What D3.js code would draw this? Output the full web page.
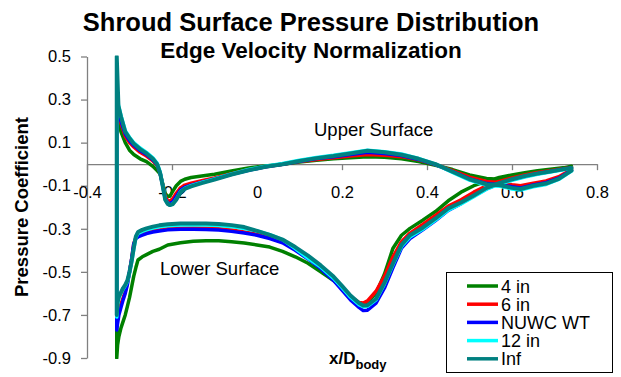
<!DOCTYPE html>
<html>
<head>
<meta charset="utf-8">
<script src="https://cdn.jsdelivr.net/npm/d3@7"></script>
<style>
  html, body { margin: 0; padding: 0; background: #fff; }
  svg { display: block; font-family: Arial, "Liberation Sans", sans-serif; }
</style>
</head>
<body>
<svg id="chart" width="621" height="377"></svg>
<script>
// Chordwise stations (x/D_body) on the shroud, upper and lower surfaces
const xUpper = [-0.33, -0.326, -0.32, -0.31, -0.30, -0.29, -0.275, -0.26, -0.245, -0.235, -0.228, -0.222, -0.216, -0.21, -0.205, -0.198, -0.19, -0.18, -0.17, -0.155, -0.13, -0.1, -0.06, -0.02, 0.02, 0.06, 0.1, 0.14, 0.18, 0.22, 0.26, 0.3, 0.34, 0.38, 0.42, 0.46, 0.5, 0.54, 0.57, 0.6, 0.62, 0.65, 0.68, 0.71, 0.74];
const xLower = [-0.33, -0.328, -0.325, -0.32, -0.315, -0.31, -0.305, -0.30, -0.295, -0.29, -0.285, -0.28, -0.27, -0.26, -0.245, -0.23, -0.21, -0.18, -0.15, -0.12, -0.09, -0.06, -0.03, 0.0, 0.03, 0.06, 0.09, 0.12, 0.15, 0.18, 0.2, 0.22, 0.24, 0.25, 0.26, 0.28, 0.3, 0.32, 0.34, 0.36, 0.39, 0.42, 0.45, 0.48, 0.51, 0.54, 0.57, 0.6, 0.63, 0.66, 0.69, 0.72, 0.74];

// Pressure coefficient, upper surface
const upper4in = [0.22, 0.2, 0.15, 0.1, 0.065, 0.045, 0.025, 0.012, -0.01, -0.03, -0.045, -0.09, -0.135, -0.15, -0.148, -0.125, -0.1, -0.08, -0.07, -0.062, -0.055, -0.047, -0.032, -0.018, -0.008, 0.0, 0.01, 0.018, 0.025, 0.03, 0.035, 0.032, 0.025, 0.012, -0.005, -0.025, -0.05, -0.066, -0.07, -0.058, -0.05, -0.042, -0.033, -0.022, -0.01];
const upper6in = [0.25, 0.23, 0.19, 0.13, 0.1, 0.08, 0.055, 0.038, 0.015, -0.005, -0.04, -0.095, -0.15, -0.17, -0.172, -0.16, -0.135, -0.11, -0.097, -0.088, -0.077, -0.064, -0.044, -0.026, -0.012, 0.0, 0.012, 0.022, 0.03, 0.038, 0.045, 0.042, 0.035, 0.02, -0.002, -0.03, -0.06, -0.08, -0.085, -0.095, -0.1, -0.088, -0.078, -0.058, -0.025];
const upperNuwc = [0.27, 0.25, 0.2, 0.14, 0.11, 0.088, 0.063, 0.045, 0.02, -0.002, -0.04, -0.098, -0.16, -0.18, -0.183, -0.175, -0.15, -0.12, -0.107, -0.097, -0.084, -0.069, -0.047, -0.028, -0.012, 0.0, 0.014, 0.026, 0.035, 0.045, 0.055, 0.05, 0.04, 0.022, -0.002, -0.035, -0.068, -0.09, -0.095, -0.105, -0.11, -0.096, -0.086, -0.065, -0.028];
const upper12in = [0.29, 0.275, 0.226, 0.156, 0.125, 0.1, 0.075, 0.055, 0.03, 0.005, -0.036, -0.097, -0.163, -0.184, -0.19, -0.184, -0.163, -0.127, -0.112, -0.1, -0.085, -0.069, -0.045, -0.025, -0.009, 0.003, 0.018, 0.031, 0.041, 0.053, 0.065, 0.058, 0.047, 0.027, 0.0, -0.038, -0.074, -0.098, -0.102, -0.115, -0.12, -0.105, -0.094, -0.071, -0.032];
const upperInf = [0.5, 0.27, 0.22, 0.15, 0.12, 0.095, 0.07, 0.05, 0.025, 0.0, -0.04, -0.1, -0.165, -0.185, -0.19, -0.185, -0.165, -0.13, -0.115, -0.103, -0.088, -0.072, -0.048, -0.028, -0.012, 0.0, 0.015, 0.028, 0.038, 0.05, 0.062, 0.055, 0.044, 0.025, 0.0, -0.035, -0.07, -0.093, -0.097, -0.11, -0.115, -0.1, -0.09, -0.068, -0.03];

// Pressure coefficient, lower surface
const lower4in = [-0.9, -0.84, -0.8, -0.76, -0.73, -0.7, -0.66, -0.62, -0.57, -0.52, -0.48, -0.445, -0.43, -0.42, -0.405, -0.395, -0.375, -0.365, -0.358, -0.356, -0.356, -0.36, -0.366, -0.375, -0.385, -0.405, -0.43, -0.46, -0.5, -0.54, -0.575, -0.615, -0.645, -0.65, -0.64, -0.6, -0.51, -0.39, -0.33, -0.298, -0.26, -0.22, -0.17, -0.13, -0.1, -0.08, -0.062, -0.05, -0.04, -0.031, -0.024, -0.017, -0.012];
const lower6in = [-0.74, -0.71, -0.68, -0.65, -0.62, -0.59, -0.55, -0.5, -0.44, -0.37, -0.34, -0.332, -0.325, -0.317, -0.31, -0.305, -0.3, -0.297, -0.296, -0.297, -0.3, -0.306, -0.315, -0.325, -0.34, -0.36, -0.395, -0.435, -0.48, -0.535, -0.578, -0.615, -0.642, -0.645, -0.635, -0.59, -0.52, -0.43, -0.36, -0.32, -0.28, -0.238, -0.195, -0.165, -0.13, -0.1, -0.08, -0.064, -0.05, -0.039, -0.03, -0.021, -0.016];
const lowerNuwc = [-0.77, -0.74, -0.7, -0.665, -0.63, -0.6, -0.56, -0.5, -0.44, -0.37, -0.345, -0.338, -0.33, -0.322, -0.315, -0.31, -0.305, -0.302, -0.302, -0.303, -0.306, -0.312, -0.32, -0.33, -0.345, -0.365, -0.4, -0.44, -0.485, -0.54, -0.585, -0.63, -0.665, -0.68, -0.678, -0.645, -0.575, -0.48, -0.39, -0.345, -0.305, -0.262, -0.215, -0.183, -0.148, -0.115, -0.09, -0.072, -0.057, -0.044, -0.034, -0.024, -0.018];
const lower12in = [-0.71, -0.65, -0.622, -0.6, -0.58, -0.565, -0.545, -0.505, -0.455, -0.395, -0.34, -0.322, -0.312, -0.305, -0.297, -0.291, -0.286, -0.283, -0.282, -0.282, -0.285, -0.29, -0.299, -0.31, -0.327, -0.35, -0.392, -0.437, -0.478, -0.53, -0.573, -0.618, -0.652, -0.662, -0.66, -0.63, -0.556, -0.466, -0.382, -0.338, -0.302, -0.26, -0.213, -0.185, -0.151, -0.116, -0.093, -0.075, -0.06, -0.047, -0.037, -0.026, -0.019];
const lowerInf = [-0.7, -0.64, -0.615, -0.595, -0.575, -0.56, -0.54, -0.5, -0.45, -0.39, -0.335, -0.315, -0.305, -0.298, -0.29, -0.284, -0.279, -0.276, -0.275, -0.275, -0.278, -0.283, -0.292, -0.31, -0.328, -0.35, -0.385, -0.425, -0.47, -0.522, -0.565, -0.61, -0.645, -0.656, -0.655, -0.625, -0.55, -0.46, -0.375, -0.33, -0.295, -0.252, -0.205, -0.178, -0.145, -0.11, -0.088, -0.07, -0.055, -0.043, -0.034, -0.024, -0.018];

const seriesNames = ["4 in", "6 in", "NUWC WT", "12 in", "Inf"];
const seriesColors = ["#008000", "#ff0000", "#0000ff", "#00ffff", "#008080"];
const upperSets = [upper4in, upper6in, upperNuwc, upper12in, upperInf];
const lowerSets = [lower4in, lower6in, lowerNuwc, lower12in, lowerInf];

const xTicks = [-0.4, -0.2, 0, 0.2, 0.4, 0.6, 0.8];
const yTicks = [0.5, 0.3, 0.1, -0.1, -0.3, -0.5, -0.7, -0.9];

const svg = d3.select("#chart");
const plot = { left: 87, right: 597, top: 56.5, bottom: 358 };

const x = d3.scaleLinear().domain([-0.4, 0.8]).range([plot.left, plot.right]);
const y = d3.scaleLinear().domain([-0.9, 0.5]).range([plot.bottom, plot.top]);
const fmt = d => d3.format(".1f")(d).replace("\u2212", "-");

// Titles
svg.append("text").attr("x", 311).attr("y", 31).attr("text-anchor", "middle")
  .style("font-size", "25.5px").style("font-weight", "bold")
  .text("Shroud Surface Pressure Distribution");
svg.append("text").attr("x", 311).attr("y", 58).attr("text-anchor", "middle")
  .style("font-size", "22.5px").style("font-weight", "bold")
  .text("Edge Velocity Normalization");

// Y axis at x = -0.4
const yAxis = svg.append("g").attr("transform", `translate(${plot.left},0)`)
  .call(d3.axisLeft(y).tickValues(yTicks).tickFormat(fmt).tickSize(6).tickPadding(10).tickSizeOuter(0));
// X axis crossing at Cp = 0
const xAxis = svg.append("g").attr("transform", `translate(0,${y(0)})`)
  .call(d3.axisBottom(x).tickValues(xTicks).tickFormat(d => d === 0 ? "0" : fmt(d)).tickSize(6).tickPadding(16).tickSizeOuter(0));
[yAxis, xAxis].forEach(g => {
  g.select(".domain").attr("stroke", "#808080").attr("stroke-width", 1.3);
  g.selectAll(".tick line").attr("stroke", "#808080").attr("stroke-width", 1.3);
  g.selectAll(".tick text").attr("fill", "#000").style("font-size", "16.5px")
    .style("font-family", "Arial, 'Liberation Sans', sans-serif");
});

// Axis titles
svg.append("text").attr("transform", "translate(28,207) rotate(-90)").attr("text-anchor", "middle")
  .style("font-size", "18.5px").style("font-weight", "bold").text("Pressure Coefficient");
const xt = svg.append("text").attr("x", 329).attr("y", 364)
  .style("font-size", "17px").style("font-weight", "bold");
xt.append("tspan").text("x/D");
xt.append("tspan").attr("dy", 5).style("font-size", "13px").text("body");

// Surface annotations
svg.append("text").attr("x", 314).attr("y", 136).style("font-size", "18.5px").text("Upper Surface");
svg.append("text").attr("x", 160).attr("y", 275).style("font-size", "18.5px").text("Lower Surface");

// Curves: trailing edge -> lower surface -> leading edge -> upper surface -> trailing edge
svg.append("clipPath").attr("id", "plotClip").append("rect")
  .attr("x", plot.left).attr("y", plot.top - 1).attr("width", plot.right - plot.left).attr("height", plot.bottom - plot.top + 2);
const line = d3.line().x(d => x(d[0])).y(d => y(d[1]));
const curves = svg.append("g").attr("clip-path", "url(#plotClip)");
seriesNames.forEach((name, i) => {
  const lowerPts = xLower.map((xv, k) => [xv, lowerSets[i][k]]).reverse();
  const upperPts = xUpper.map((xv, k) => [xv, upperSets[i][k]]);
  curves.append("path").datum(lowerPts.concat(upperPts))
    .attr("fill", "none").attr("stroke", seriesColors[i])
    .attr("stroke-width", i === 4 ? 4 : 3.5)
    .attr("stroke-linejoin", "round").attr("stroke-linecap", "round")
    .attr("d", line);
});

// Legend
const legend = svg.append("g");
legend.append("rect").attr("x", 446.5).attr("y", 272.5).attr("width", 166).attr("height", 100)
  .attr("fill", "#fff").attr("stroke", "#000").attr("stroke-width", 1);
seriesNames.forEach((name, i) => {
  const ly = 286 + i * 18.2;
  legend.append("line").attr("x1", 467).attr("x2", 498).attr("y1", ly).attr("y2", ly)
    .attr("stroke", seriesColors[i]).attr("stroke-width", 3.5);
  legend.append("text").attr("x", 501).attr("y", ly + 6.5).style("font-size", "18px").text(name);
});
</script>
</body>
</html>
